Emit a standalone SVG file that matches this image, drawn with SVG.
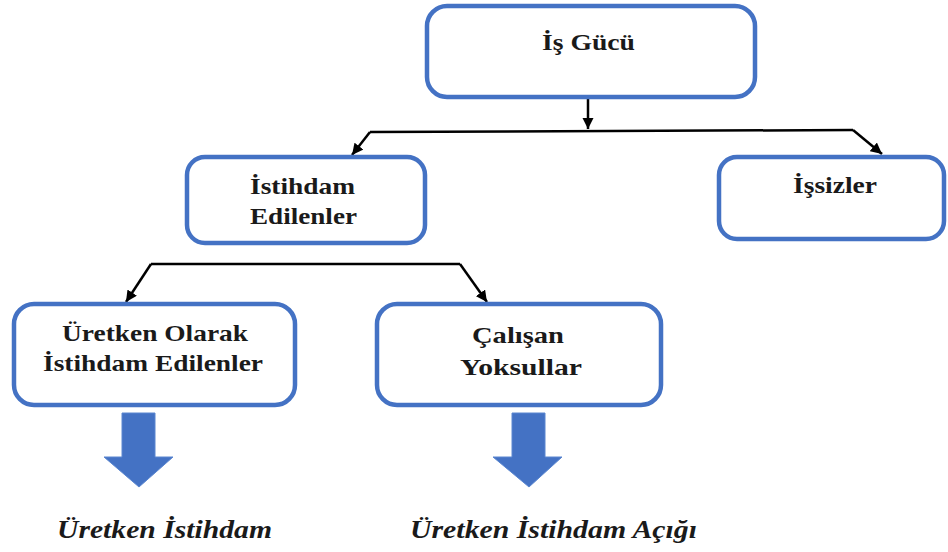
<svg xmlns="http://www.w3.org/2000/svg" width="948" height="552" viewBox="0 0 948 552">
<style>
.box{fill:#fff;stroke:#4472C4;stroke-width:4.5}
.t{font-family:'Liberation Serif','Times New Roman',serif;font-weight:bold;font-size:23px;fill:#1a1a1a}
.it{font-family:'Liberation Serif','Times New Roman',serif;font-weight:bold;font-style:italic;font-size:25px;fill:#1a1a1a}
.ln{fill:none;stroke:#000;stroke-width:2.5}
.blk{fill:#4472C4;stroke:#5a86d0;stroke-width:1}
</style>
<defs>
<marker id="ah" viewBox="0 0 10 10" refX="10" refY="5" markerWidth="4.5" markerHeight="4.5" orient="auto" markerUnits="strokeWidth">
<path d="M0,0 L10,5 L0,10 z" fill="#000"/>
</marker>
</defs>
<g id="connectors">
<path class="ln" d="M588,98 L588,129" marker-end="url(#ah)"/>
<path class="ln" d="M370,132 L853,130"/>
<path class="ln" d="M370,132 L352,155" marker-end="url(#ah)"/>
<path class="ln" d="M853,130 L882,154" marker-end="url(#ah)"/>
<path class="ln" d="M151,264 L460,264"/>
<path class="ln" d="M151,264 L126,302" marker-end="url(#ah)"/>
<path class="ln" d="M460,264 L487,302" marker-end="url(#ah)"/>
<polygon class="blk" points="122,413 155,413 155,457 173,457 139,487 104,457 122,457"/>
<polygon class="blk" points="512,413 545,413 545,457 562,457 529,487 493,457 512,457"/>
</g>
<g id="isgucu">
<rect class="box" x="427" y="6" width="328" height="91" rx="20"/>
<text class="t" x="542" y="50" textLength="93" lengthAdjust="spacingAndGlyphs">İş Gücü</text>
</g>
<g id="istihdam">
<rect class="box" x="187" y="157" width="238" height="86" rx="18"/>
<text class="t" x="250" y="194" textLength="105" lengthAdjust="spacingAndGlyphs">İstihdam</text>
<text class="t" x="250" y="224" textLength="107" lengthAdjust="spacingAndGlyphs">Edilenler</text>
</g>
<g id="issizler">
<rect class="box" x="719" y="157" width="225" height="82" rx="18"/>
<text class="t" x="793" y="193" textLength="84" lengthAdjust="spacingAndGlyphs">İşsizler</text>
</g>
<g id="uretken">
<rect class="box" x="14" y="304" width="281" height="101" rx="20"/>
<text class="t" x="62" y="341" textLength="186" lengthAdjust="spacingAndGlyphs">Üretken Olarak</text>
<text class="t" x="43" y="371" textLength="220" lengthAdjust="spacingAndGlyphs">İstihdam Edilenler</text>
</g>
<g id="calisan">
<rect class="box" x="377" y="304" width="284" height="101" rx="20"/>
<text class="t" x="472" y="343" textLength="92" lengthAdjust="spacingAndGlyphs">Çalışan</text>
<text class="t" x="460" y="375" textLength="122" lengthAdjust="spacingAndGlyphs">Yoksullar</text>
</g>
<g id="labels">
<text class="it" x="57" y="538" textLength="215" lengthAdjust="spacingAndGlyphs">Üretken İstihdam</text>
<text class="it" x="410" y="538" textLength="287" lengthAdjust="spacingAndGlyphs">Üretken İstihdam Açığı</text>
</g>
</svg>
